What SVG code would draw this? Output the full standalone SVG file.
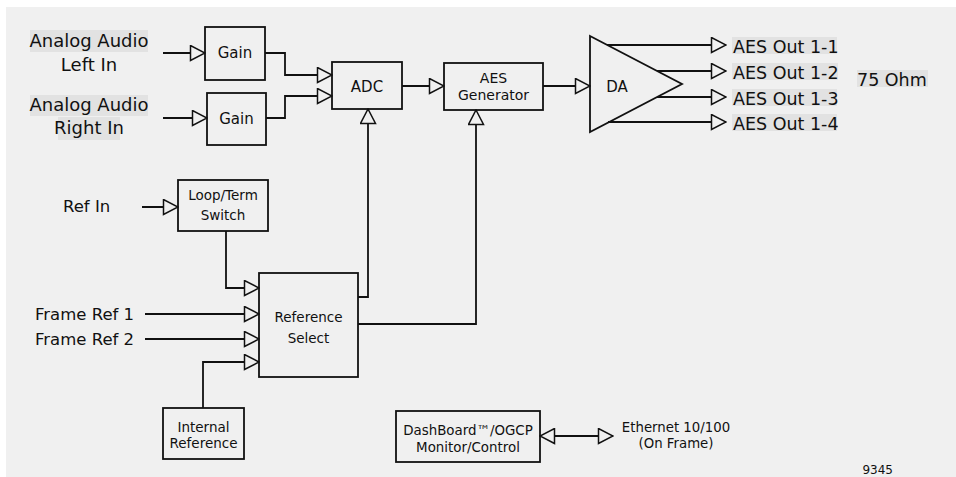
<svg xmlns="http://www.w3.org/2000/svg" width="956" height="477" viewBox="0 0 956 477">
<style>
text{font-family:"DejaVu Sans","Liberation Sans",sans-serif;fill:#111}
.box{fill:#f0f0f0;stroke:#111;stroke-width:1.8}
.c{fill:none;stroke:#111;stroke-width:1.8;marker-end:url(#ah)}
.hl{fill:#e2e2e2}
.m{text-anchor:middle}
</style>
<defs>
<marker id="ah" viewBox="0 0 17 17" refX="16" refY="8.5" markerWidth="17" markerHeight="17" markerUnits="userSpaceOnUse" orient="auto-start-reverse">
<path d="M1.5,1 L16,8.5 L1.5,16 Z" fill="#f0f0f0" stroke="#111" stroke-width="1.5"/>
</marker>
</defs>
<rect x="6" y="7" width="950" height="470" fill="#f0f0f0"/>

<g id="in-left">
<rect class="hl" x="30" y="30" width="118" height="22"/>
<text class="m" x="89" y="47" font-size="18">Analog Audio</text>
<text class="m" x="89" y="71" font-size="18">Left In</text>
</g>
<g id="in-right">
<rect class="hl" x="30" y="95" width="118" height="21"/>
<rect class="hl" x="58" y="117" width="62" height="23"/>
<text class="m" x="89" y="111" font-size="18">Analog Audio</text>
<text class="m" x="89" y="134" font-size="18">Right In</text>
</g>
<g id="gain1">
<rect class="box" x="205" y="27" width="60" height="53"/>
<text class="m" x="235" y="58" font-size="15">Gain</text>
</g>
<g id="gain2">
<rect class="box" x="207" y="93" width="59" height="52"/>
<text class="m" x="236.5" y="124" font-size="15">Gain</text>
</g>
<g id="adc">
<rect class="box" x="332" y="62" width="70" height="47"/>
<text class="m" x="367" y="92" font-size="15">ADC</text>
</g>
<g id="aes">
<rect class="box" x="444" y="63" width="99" height="47"/>
<text class="m" x="493.5" y="83" font-size="14">AES</text>
<text class="m" x="493.5" y="100" font-size="14">Generator</text>
</g>
<g id="da">
<polygon class="box" points="590,36 682,84 590,132"/>
<text class="m" x="617" y="92" font-size="15">DA</text>
</g>
<g id="outputs">
<rect class="hl" x="732" y="37" width="105" height="17"/>
<rect class="hl" x="732" y="63" width="106" height="17"/>
<rect class="hl" x="732" y="89" width="105" height="17"/>
<rect class="hl" x="732" y="114" width="105" height="17"/>
<text x="733" y="53" font-size="17.5">AES Out 1-1</text>
<text x="733" y="79" font-size="17.5">AES Out 1-2</text>
<text x="733" y="105" font-size="17.5">AES Out 1-3</text>
<text x="733" y="130" font-size="17.5">AES Out 1-4</text>
</g>
<g id="ohm">
<rect class="hl" x="857" y="70" width="71" height="17"/>
<text x="857" y="86" font-size="17.5">75 Ohm</text>
</g>
<g id="refin">
<text x="63" y="212" font-size="16.5">Ref In</text>
</g>
<g id="loopterm">
<rect class="box" x="178" y="180" width="90" height="51"/>
<text class="m" x="223" y="200" font-size="13.5">Loop/Term</text>
<text class="m" x="223" y="220" font-size="13.5">Switch</text>
</g>
<g id="frameref">
<text x="35" y="320" font-size="16.5">Frame Ref 1</text>
<text x="35" y="345" font-size="16.5">Frame Ref 2</text>
</g>
<g id="refselect">
<rect class="box" x="259" y="273" width="99" height="104"/>
<text class="m" x="308.5" y="322" font-size="13.5">Reference</text>
<text class="m" x="308.5" y="343" font-size="13.5">Select</text>
</g>
<g id="internal">
<rect class="box" x="163" y="408" width="81" height="51"/>
<text class="m" x="203.5" y="432" font-size="13.5">Internal</text>
<text class="m" x="203.5" y="448" font-size="13.5">Reference</text>
</g>
<g id="dashboard">
<rect class="box" x="396" y="411" width="144" height="51"/>
<text class="m" x="468" y="435" font-size="13.4">DashBoard™/OGCP</text>
<text class="m" x="468" y="452" font-size="13.4">Monitor/Control</text>
</g>
<g id="ethernet">
<text class="m" x="676" y="432" font-size="13.3">Ethernet 10/100</text>
<text class="m" x="676" y="448" font-size="13.3">(On Frame)</text>
</g>
<text x="893" y="474" font-size="12" text-anchor="end">9345</text>

<g id="connectors">
<path class="c" d="M163,53 H205"/>
<path class="c" d="M163,118 H207"/>
<path class="c" d="M265,53 H285 V75 H332"/>
<path class="c" d="M266,118 H285 V96 H332"/>
<path class="c" d="M402,86 H444"/>
<path class="c" d="M543,86 H590"/>
<path class="c" d="M607,45 H726"/>
<path class="c" d="M657,71 H726"/>
<path class="c" d="M657,97 H726"/>
<path class="c" d="M608,122 H726"/>
<path class="c" d="M142,207 H178"/>
<path class="c" d="M226,231 V288 H259"/>
<path class="c" d="M145,314 H259"/>
<path class="c" d="M145,339 H259"/>
<path class="c" d="M203,408 V362 H259"/>
<path class="c" d="M358,297 H368 V109"/>
<path class="c" d="M358,324 H476 V110"/>
<path class="c" d="M540,436 H613" marker-start="url(#ah)"/>
</g>
</svg>
